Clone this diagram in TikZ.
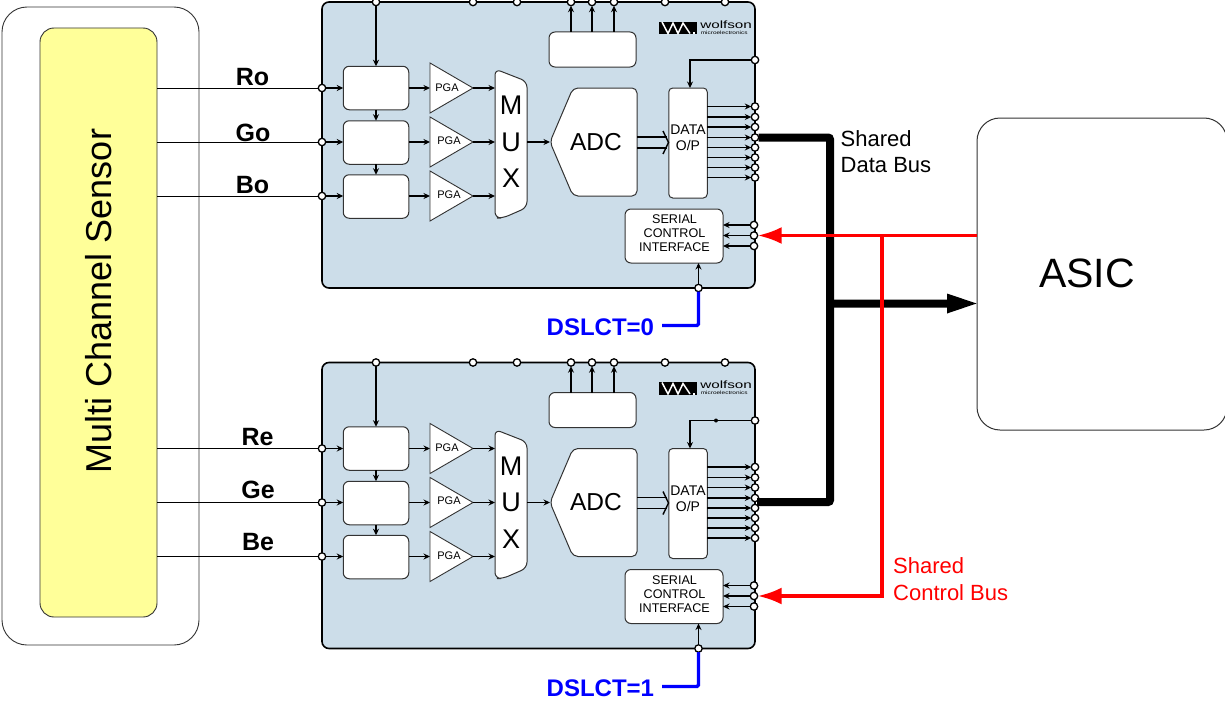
\documentclass[tikz,border=0pt]{standalone}
\usepackage{fontspec}
\setmainfont{Liberation Sans}
\usetikzlibrary{arrows.meta}
\definecolor{chipblue}{HTML}{CCDDE9}
\definecolor{sensoryellow}{HTML}{FFFF99}
\definecolor{boxline}{HTML}{333333}
\tikzset{
  pinnode/.style={circle,draw=black,fill=white,line width=1.3pt,inner sep=0pt,minimum size=7.4pt,outer sep=0pt},
  chipbox/.style={draw=black,fill=chipblue,line width=1.6pt,rounded corners=7pt},
  whitebox/.style={draw=boxline,fill=white,line width=1pt,rounded corners=6pt,inner sep=0pt,outer sep=0pt,align=center},
  sig/.style={line width=1.2pt,-{Stealth[length=6.5pt,width=6pt]}},
  sigthick/.style={line width=1.5pt,-{Stealth[length=6.5pt,width=6pt]}},
  wire/.style={line width=1pt,draw=black},
  pgatext/.style={font=\fontsize{11}{11}\selectfont,inner sep=0pt},
  muxtext/.style={font=\fontsize{27}{36.5}\selectfont,inner sep=0pt,align=center},
  adctext/.style={font=\fontsize{24.5}{24.5}\selectfont,inner sep=0pt},
  portlabel/.style={font=\fontsize{25}{25}\selectfont\bfseries,inner sep=0pt},
  dslabel/.style={font=\fontsize{24}{24}\selectfont\bfseries,text=blue,inner sep=0pt,anchor=west},
  buslabel/.style={font=\fontsize{22}{26.5}\selectfont,inner sep=0pt,anchor=west,align=left},
  databus/.style={line width=8pt,draw=black,rounded corners=2pt},
  redbus/.style={line width=3.4pt,draw=red},
  bluebus/.style={line width=3.4pt,draw=blue,rounded corners=1.5pt},
}
\newcommand{\chipdraw}[2]{%
\begin{scope}[shift={(0,#2)}]
  \draw[chipbox] (322,2) rectangle (755,288);
  % pins
  \foreach \n/\x in {t1/376,t2/473,t3/517,t4/571,t5/592,t6/614,t7/665,t8/725}
    \node[pinnode] (#1-\n) at (\x,2) {};
  \node[pinnode] (#1-clk) at (755,60) {};
  \foreach \n/\y in {l1/88,l2/142,l3/196}
    \node[pinnode] (#1-\n) at (322,\y) {};
  \foreach \n/\y in {d1/106.5,d2/117,d3/127,d4/137.5,d5/147.5,d6/157.5,d7/167.5,d8/177.5}
    \node[pinnode] (#1-\n) at (755,\y) {};
  \foreach \n/\y in {s1/225,s2/235.5,s3/246}
    \node[pinnode] (#1-\n) at (754,\y) {};
  \node[pinnode] (#1-sel) at (698.5,288) {};
  % logo
  \node[fill=black,minimum width=38pt,minimum height=12.6pt,inner sep=0pt] (#1-logo) at (678,28) {};
  \draw[white,line width=1.5pt] (662,22) -- (668,33.5) -- (673,23) -- (678,33.5) -- (683,23) -- (690,33.5);
  \fill[white] (692.5,32) rectangle (694.5,34.3);
  \node[inner sep=0pt,anchor=base west,font=\fontsize{10.5}{10.5}\selectfont,xscale=1.45] (#1-wolf) at (700,28.3) {wolfson};
  \node[inner sep=0pt,anchor=base west,font=\fontsize{4.8}{5}\selectfont,xscale=1.35] (#1-micro) at (700.5,34.4) {microelectronics};
  % inner blocks
  \node[whitebox,minimum width=87pt,minimum height=35pt] (#1-top) at (592.5,49.5) {};
  \node[whitebox,minimum width=65.5pt,minimum height=43.5pt] (#1-b1) at (376,88) {};
  \node[whitebox,minimum width=65.5pt,minimum height=43.5pt] (#1-b2) at (376,142.5) {};
  \node[whitebox,minimum width=65.5pt,minimum height=43.5pt] (#1-b3) at (376,196.5) {};
  % PGA triangles
  \foreach \i/\y/\tx/\ty in {1/88/447/87.5,2/142/449/140.5,3/196/449/195}{
    \draw[fill=white,draw=boxline,line width=.9pt,line join=miter] (430,\y-25) -- (473,\y) -- (430,\y+25) -- cycle;
    \coordinate (#1-pi\i) at (430,\y);
    \coordinate (#1-po\i) at (473,\y);
    \node[pgatext] (#1-pga\i) at (\tx,\ty) {PGA};
  }
  % MUX
  \draw[whitebox] (495,69) -- (527,81.5) -- (527,207.5) -- (503,218) -- (495,218) -- cycle;
  \node[muxtext] (#1-mux) at (511,142) {M\\U\\X};
  \coordinate (#1-mi1) at (495,88);
  \coordinate (#1-mi2) at (495,142);
  \coordinate (#1-mi3) at (495,196);
  \coordinate (#1-mo) at (527,142);
  % ADC
  \draw[whitebox,rounded corners=5pt] (550,142) -- (573,88) -- (637,88) -- (637,196) -- (573,196) -- cycle;
  \coordinate (#1-ai) at (550,142);
  \node[adctext] (#1-adc) at (596,142) {ADC};
  % data and serial
  \node[whitebox,rounded corners=4pt,minimum width=38.5pt,minimum height=110pt] (#1-data) at (688,143) {};
  \node[inner sep=0pt,align=center,font=\fontsize{14}{16}\selectfont] (#1-datat) at (688,138) {DATA\\O/P};
  \node[whitebox,minimum width=98pt,minimum height=54pt] (#1-ser) at (674,236) {};
  \node[inner sep=0pt,align=center,font=\fontsize{12.6}{14}\selectfont] (#1-sert) at (674.5,233.5) {SERIAL\\CONTROL\\INTERFACE};
  % connectors
  \draw[sigthick] (#1-t1) -- (#1-b1.north-|#1-t1);
  \draw[sig] (#1-b1) -- (#1-b2);
  \draw[sig] (#1-b2) -- (#1-b3);
  \foreach \i in {1,2,3}{
    \draw[sig] (#1-l\i) -- (#1-l\i-|#1-b\i.west);
    \draw[sig] (#1-b\i.east|-#1-pi\i) -- (#1-pi\i);
    \draw[sig] (#1-po\i) -- (#1-mi\i);
  }
  \draw[sig] (#1-mo) -- (#1-ai);
  \foreach \i in {4,5,6}
    \draw[sigthick] (#1-top.north-|#1-t\i) -- (#1-t\i);
  \draw[sigthick] (#1-clk) -| (#1-data.north-|690,0);
  \foreach \i in {1,...,8}
    \draw[sig] (#1-data.east|-#1-d\i) -- (#1-d\i);
  \foreach \i in {1,2,3}
    \draw[sigthick] (#1-s\i) -- (#1-s\i-|#1-ser.east);
  \draw[sigthick] (#1-sel) -- (#1-sel|-#1-ser.south);
  % double arrow ADC to DATA
  \coordinate (#1-da) at (637,137);
  \coordinate (#1-db) at (637,148);
  \draw[line width=1.4pt] (#1-da) -- (667,137);
  \draw[line width=1.4pt] (#1-db) -- (667,148);
  \draw[line width=1.4pt] (663,131) -- (668.5,142.5) -- (663,154);
\end{scope}}
\begin{document}
\begin{tikzpicture}[x=1pt,y=-1pt]
\useasboundingbox (0,0) rectangle (1225,701);
% sensor
\node[draw=boxline,fill=white,line width=.9pt,rounded corners=25pt,minimum width=197pt,minimum height=638pt,inner sep=0pt] (outer) at (100.5,326) {};
\node[draw=boxline,fill=sensoryellow,line width=.9pt,rounded corners=14pt,minimum width=117pt,minimum height=589pt,inner sep=0pt] (sensor) at (98.5,322.5) {};
\node[rotate=90,inner sep=0pt,font=\fontsize{36}{36}\selectfont] (sensortext) at (99,301) {Multi Channel Sensor};
% chips
\chipdraw{a}{0}
\chipdraw{b}{360.5}
\node[circle,fill=black,inner sep=0pt,minimum size=4pt] (dot) at (716,420.5) {};
% sensor wires
\foreach \c/\i in {a/1,a/2,a/3,b/1,b/2,b/3}
  \draw[wire] (\c-l\i) -- (\c-l\i-|sensor.east);
% labels
\node[portlabel] (ro) at (252.5,77) {Ro};
\node[portlabel] (go) at (253,132.5) {Go};
\node[portlabel] (bo) at (252.5,185.5) {Bo};
\node[portlabel] (re) at (257.5,437) {Re};
\node[portlabel] (ge) at (258,490) {Ge};
\node[portlabel] (be) at (258,542.5) {Be};
% ASIC
\node[draw=boxline,fill=white,line width=1pt,rounded corners=23pt,minimum width=250pt,minimum height=312pt,inner sep=0pt] (asic) at (1102,274) {};
\node[inner sep=0pt,font=\fontsize{41}{41}\selectfont] (asictext) at (1087,273) {ASIC};
% data bus
\coordinate (busjoin) at (830,303.5);
\coordinate (bend) at (757,502);
\draw[databus] (a-d4) -| (busjoin) |- (bend);
\path[fill=black] (busjoin) ++(0,-4) -- (947,299.5) -- (947,293.5) -- (976.5,303.5) -- (947,313.5) -- (947,307.5) -- (830,307.5) -- cycle;
% control bus
\coordinate (ctrl) at (882,235.5);
\draw[redbus,-{Latex[length=24pt,width=17pt]}] (asic.west|-a-s2) -- (a-s2);
\draw[redbus,-{Latex[length=24pt,width=17pt]}] (ctrl) |- (b-s2);
\node[buslabel] (sdb) at (840.5,151.5) {Shared\\Data Bus};
\node[buslabel,text=red] (scb) at (893,579) {Shared\\Control Bus};
% DSLCT
\node[dslabel] (ds0) at (546.5,327) {DSLCT=0};
\node[dslabel] (ds1) at (546.5,688) {DSLCT=1};
\draw[bluebus] (a-sel) |- (662,325.5);
\draw[bluebus] (b-sel) |- (662,686.5);
\end{tikzpicture}
\end{document}
